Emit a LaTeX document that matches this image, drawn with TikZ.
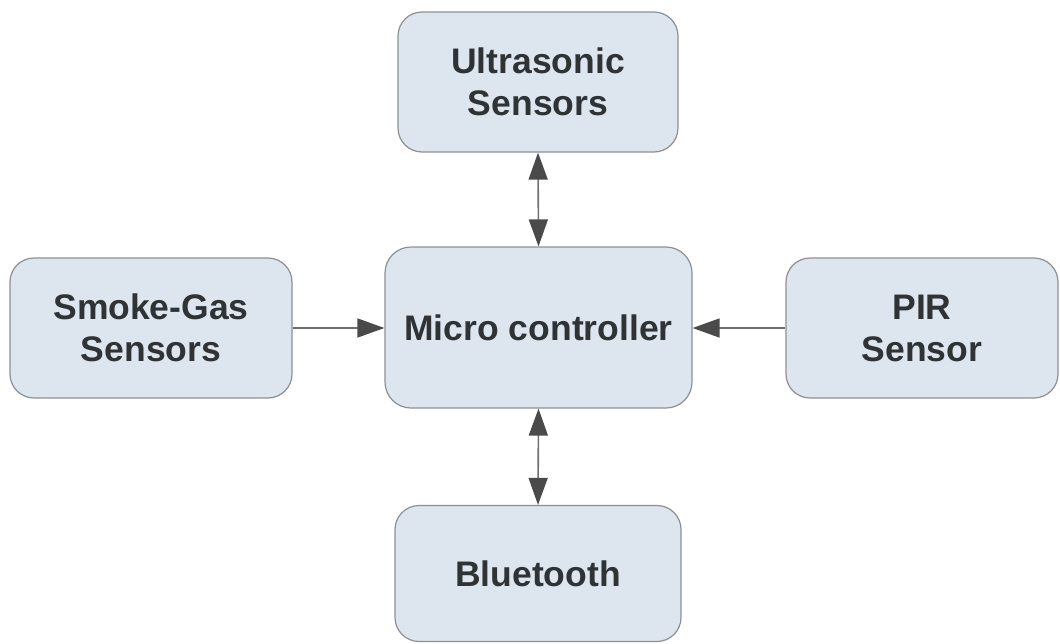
\documentclass[tikz,border=0pt]{standalone}
\usepackage{fontspec}
\setmainfont{Liberation Sans}
\usetikzlibrary{arrows.meta}
\definecolor{boxfill}{HTML}{DDE6EF}
\definecolor{boxline}{HTML}{8C9096}
\definecolor{txt}{HTML}{303336}
\definecolor{wire}{HTML}{707070}
\definecolor{tip}{HTML}{4A4A4A}
\tikzset{
  block/.style={draw=boxline, line width=1.2pt, fill=boxfill, rounded corners=24pt,
    align=center, text=txt, font=\fontsize{35.5}{42}\selectfont\bfseries, inner sep=0pt},
  link/.style={draw=wire, line width=1.6pt,
    arrows={-Triangle[length=27pt,width=19pt,fill=tip,color=tip]}},
  dlink/.style={draw=wire, line width=1.6pt,
    arrows={Triangle[length=27pt,width=19pt,fill=tip,color=tip]-Triangle[length=27pt,width=19pt,fill=tip,color=tip]}}
}
\begin{document}
\begin{tikzpicture}[x=1pt,y=-1pt]
  \useasboundingbox (0,0) rectangle (1060,643);
  % blocks
  \node[block, minimum width=280pt, minimum height=140pt] (ultra) at (538,82) {Ultrasonic\\Sensors};
  \node[block, minimum width=307pt, minimum height=161pt, rounded corners=26pt] (mcu) at (538.5,327.5) {Micro controller};
  \node[block, minimum width=282pt, minimum height=140pt] (smoke) at (151,328) {Smoke-Gas\\Sensors};
  \node[block, minimum width=272pt, minimum height=140pt] (pir) at (922,328) {PIR\\Sensor};
  \node[block, minimum width=286pt, minimum height=136pt] (bt) at (538,573.5) {Bluetooth};
  % connectors
  \draw[dlink] (ultra.south) -- (mcu.north);
  \draw[dlink] (mcu.south) -- (bt.north);
  \draw[link] (smoke.east) -- (smoke.east -| mcu.west);
  \draw[link] (pir.west) -- (pir.west -| mcu.east);
\end{tikzpicture}
\end{document}
